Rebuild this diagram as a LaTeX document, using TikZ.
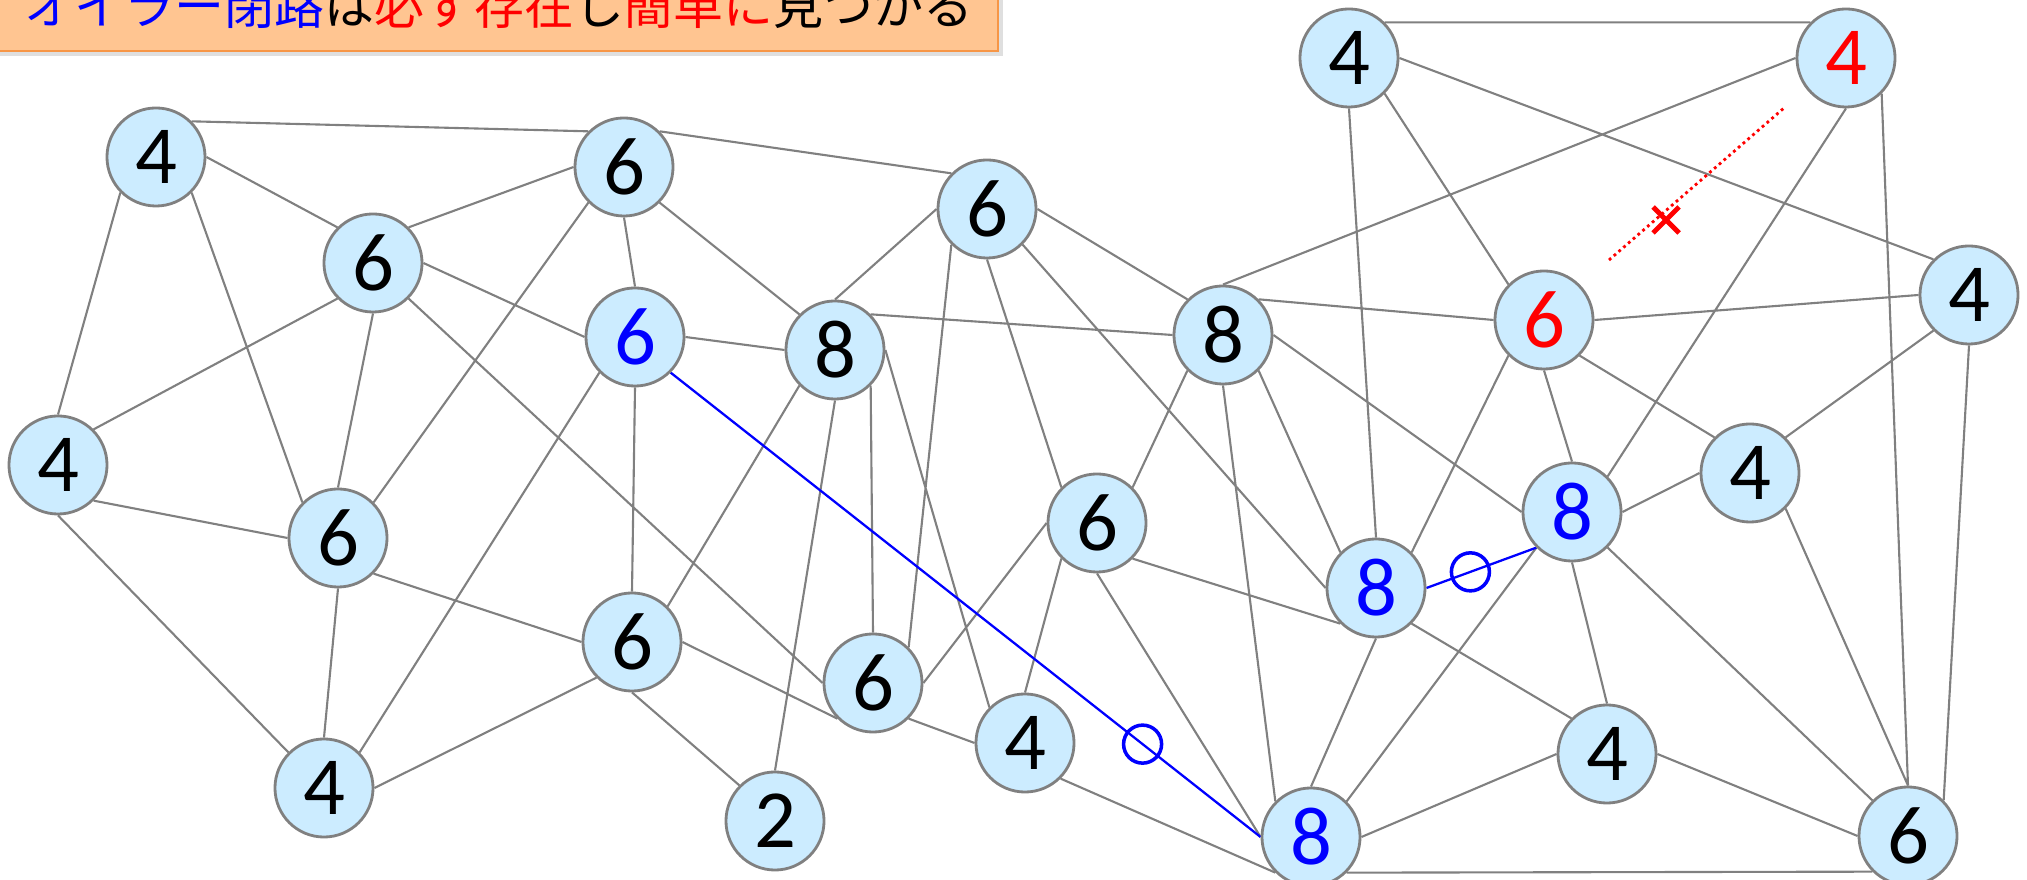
\documentclass[tikz,border=0pt]{standalone}
\usepackage{fontspec}
\setmainfont{Carlito}
\newfontfamily\jpfont{Noto Sans CJK JP}
\usetikzlibrary{shadows,backgrounds}
\definecolor{nodefill}{RGB}{204,236,255}
\definecolor{edgegray}{RGB}{128,128,128}
\definecolor{boxfill}{RGB}{255,197,145}
\definecolor{boxline}{RGB}{247,150,70}
\begin{document}
\begin{tikzpicture}[x=0.01cm,y=-0.01cm,
  vtx/.style={circle,draw=edgegray,fill=nodefill,line width=0.8pt,minimum size=0.98cm,inner sep=0pt,font=\fontsize{23.5}{28}\selectfont},
  link/.style={draw=edgegray,line width=0.6pt},
  euler/.style={draw=blue,line width=0.65pt},
  ringmark/.style={circle,draw=blue,line width=1pt,minimum size=0.38cm,inner sep=0pt},
  titlebox/.style={fill=boxfill,draw=boxline,line width=0.5pt,drop shadow={shadow xshift=1.5pt,shadow yshift=-1.5pt,opacity=0.25}}
]
\useasboundingbox (0,0) rectangle (2027,880);
\clip (0,0) rectangle (2027,880);

% title
\path[titlebox] (-10,-60) rectangle (998,51);
\node[anchor=base west,inner sep=0pt,font=\jpfont\fontsize{14.2}{17}\selectfont] (title) at (24,25)
  {\textcolor{blue}{オイラー閉路}は\textcolor{red}{必ず存在}し\textcolor{red}{簡単に}見つかる};

% vertices
\node[vtx] (A) at (156,157) {4};
\node[vtx] (B) at (624,167) {6};
\node[vtx] (C) at (987,209) {6};
\node[vtx] (D) at (1349,58) {4};
\node[vtx,text=red] (E) at (1846,58) {4};
\node[vtx] (F) at (373,263) {6};
\node[vtx,text=blue] (G) at (635,337) {6};
\node[vtx] (H) at (835,350) {8};
\node[vtx] (I) at (1223,335) {8};
\node[vtx,text=red] (J) at (1544,320) {6};
\node[vtx] (K) at (1969,295) {4};
\node[vtx] (L) at (58,465) {4};
\node[vtx] (M) at (338,538) {6};
\node[vtx] (N) at (1097,523) {6};
\node[vtx,text=blue] (O) at (1376,588) {8};
\node[vtx,text=blue] (P) at (1572,512) {8};
\node[vtx] (Q) at (1750,473) {4};
\node[vtx] (R) at (632,642) {6};
\node[vtx] (S) at (873,683) {6};
\node[vtx] (T) at (324,788) {4};
\node[vtx] (U) at (775,821) {2};
\node[vtx] (V) at (1025,743) {4};
\node[vtx,text=blue] (W) at (1311,837) {8};
\node[vtx] (X) at (1607,754) {4};
\node[vtx] (Y) at (1908,836) {6};

\begin{pgfonlayer}{background}
\path[link]
  (A.45) -- (B.135)  (A.0) -- (F.135)  (A.225) -- (L.90)  (A.315) -- (M.135)
  (F.45) -- (B.180)  (F.0) -- (G.180)  (F.225) -- (L.45)  (F.270) -- (M.90)  (F.315) -- (S.180)
  (B.270) -- (G.90)  (B.225) -- (M.45)  (B.315) -- (H.135)  (B.45) -- (C.135)
  (L.315) -- (M.180)  (L.270) -- (T.135)  (M.270) -- (T.90)  (M.315) -- (R.180)
  (G.270) -- (R.90)  (G.225) -- (T.45)  (G.0) -- (H.180)
  (H.90) -- (C.180)  (H.45) -- (I.180)  (H.225) -- (R.45)  (H.270) -- (U.90)  (H.315) -- (S.90)  (H.0) -- (V.135)
  (C.225) -- (S.45)  (C.270) -- (N.135)  (C.315) -- (O.180)  (C.0) -- (I.135)
  (I.45) -- (J.180)  (I.90) -- (E.180)  (I.225) -- (N.45)  (I.270) -- (W.135)  (I.315) -- (O.135)  (I.0) -- (P.180)
  (N.315) -- (O.225)  (N.180) -- (S.0)  (N.225) -- (V.90)  (N.270) -- (W.180)
  (O.90) -- (D.270)  (O.45) -- (J.225)  (O.315) -- (X.135)  (O.270) -- (W.90)
  (P.225) -- (W.45)  (P.270) -- (X.90)  (P.315) -- (Y.135)  (P.0) -- (Q.180)  (P.45) -- (E.270)  (P.90) -- (J.270)
  (J.315) -- (Q.135)  (J.0) -- (K.180)  (J.135) -- (D.315)
  (D.45) -- (E.135)  (D.0) -- (K.135)  (E.315) -- (Y.90)
  (K.225) -- (Q.45)  (K.270) -- (Y.45)  (Q.315) -- (Y.90)
  (X.0) -- (Y.180)  (W.315) -- (Y.225)  (W.0) -- (X.180)  (V.315) -- (W.225)
  (S.315) -- (V.180)  (R.0) -- (S.225)  (R.225) -- (T.0)  (R.270) -- (U.135);
\draw[euler] (G.315) -- node[ringmark,pos=0.8] (m1) {} (W.180);
\draw[euler] (O.0) -- node[ringmark,pos=0.4] (m2) {} (P.225);
\end{pgfonlayer}

% removed edge J-E indication
\coordinate (d1) at (1609,260);
\coordinate (d2) at (1784,108);
\draw[red,line width=0.8pt,dash pattern=on 0.8pt off 1pt] (d1) -- (d2);
\coordinate (xc) at (1666,220);
\draw[red,line width=1.4pt] ([shift={(-13,-13)}]xc) -- ([shift={(13,13)}]xc)
  ([shift={(-13,13)}]xc) -- ([shift={(13,-13)}]xc);
\end{tikzpicture}
\end{document}
